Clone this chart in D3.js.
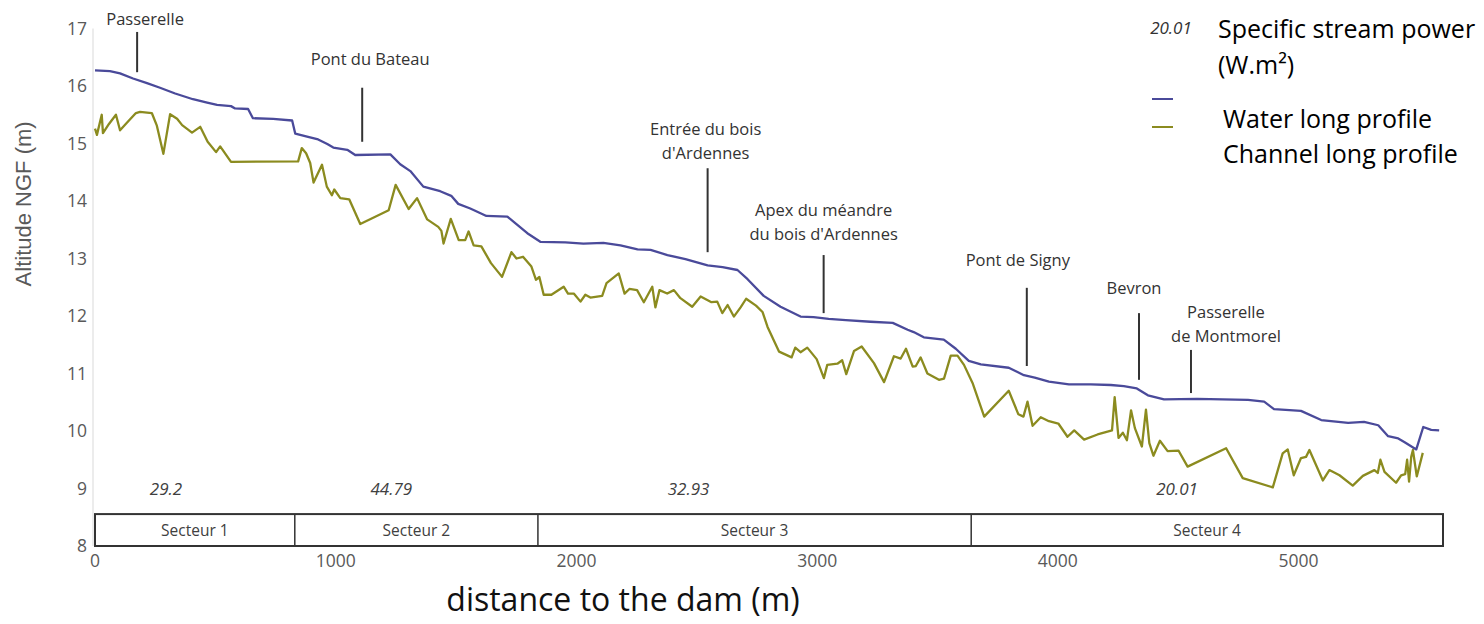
<!DOCTYPE html>
<html>
<head>
<meta charset="utf-8">
<script src="https://cdn.jsdelivr.net/npm/d3@7"></script>
<style>
  html, body { margin: 0; padding: 0; background: #fff; }
  svg { display: block; font-family: "Open Sans", Lato, sans-serif; }
</style>
</head>
<body>
<svg id="chart" width="1484" height="624"></svg>
<script>
// Long profile of the river downstream of the dam: distance (m) vs altitude NGF (m)
const waterDist = [0,62,104,158,216,270,333,407,466,507,565,582,636,656,740,819,832,881,927,965,990,1048,1081,1227,1268,1310,1364,1434,1480,1509,1559,1626,1713,1742,1796,1850,1954,2029,2112,2183,2254,2308,2378,2453,2545,2607,2669,2711,2778,2848,2931,2985,3048,3119,3222,3314,3376,3401,3443,3526,3576,3630,3680,3796,3859,3904,3963,4046,4137,4220,4274,4328,4374,4441,4578,4790,4857,4898,5010,5094,5206,5272,5331,5372,5414,5439,5489,5518,5551,5584];
const waterAlt = [16.27,16.26,16.22,16.13,16.05,15.97,15.87,15.77,15.71,15.67,15.65,15.61,15.60,15.44,15.43,15.40,15.17,15.12,15.07,14.99,14.93,14.89,14.80,14.81,14.64,14.52,14.25,14.17,14.09,13.95,13.87,13.74,13.73,13.63,13.44,13.29,13.28,13.26,13.27,13.23,13.16,13.15,13.06,12.99,12.88,12.85,12.80,12.64,12.35,12.16,11.99,11.98,11.95,11.93,11.90,11.88,11.76,11.72,11.63,11.59,11.43,11.22,11.16,11.10,10.97,10.93,10.86,10.81,10.81,10.80,10.78,10.74,10.62,10.55,10.56,10.54,10.51,10.38,10.35,10.19,10.14,10.16,10.10,9.91,9.87,9.81,9.68,10.07,10.02,10.01];

const channelDist = [0,8,28,33,58,87,104,141,170,187,236,257,284,312,341,362,403,437,468,503,520,565,844,859,877,894,908,943,963,984,994,1019,1056,1102,1220,1249,1303,1338,1380,1426,1439,1448,1478,1511,1538,1552,1573,1605,1645,1691,1730,1751,1778,1813,1832,1846,1864,1896,1947,1965,1989,2017,2037,2058,2107,2125,2176,2200,2220,2252,2280,2315,2328,2345,2377,2405,2432,2481,2516,2561,2585,2606,2628,2654,2682,2705,2746,2773,2794,2842,2894,2909,2931,2959,2998,3028,3042,3084,3104,3121,3153,3185,3236,3278,3319,3347,3369,3397,3410,3430,3458,3506,3527,3555,3583,3610,3647,3694,3796,3836,3857,3874,3895,3929,3963,4002,4040,4068,4109,4165,4225,4236,4252,4270,4287,4304,4320,4349,4366,4380,4397,4424,4456,4501,4539,4699,4768,4893,4934,4955,4980,5010,5031,5045,5101,5128,5170,5225,5267,5315,5329,5340,5357,5405,5426,5443,5451,5459,5468,5475,5491,5516];
const channelAlt = [15.26,15.15,15.50,15.18,15.34,15.50,15.23,15.40,15.53,15.55,15.53,15.31,14.82,15.51,15.43,15.32,15.19,15.29,15.03,14.85,14.95,14.68,14.69,14.92,14.83,14.66,14.32,14.63,14.25,14.10,14.20,14.05,14.03,13.60,13.84,14.28,13.86,14.05,13.68,13.55,13.48,13.26,13.69,13.32,13.32,13.47,13.23,13.21,12.92,12.68,13.11,13.00,13.03,12.86,12.63,12.68,12.37,12.37,12.51,12.39,12.39,12.25,12.37,12.32,12.35,12.57,12.74,12.39,12.47,12.45,12.24,12.51,12.15,12.45,12.39,12.45,12.31,12.16,12.34,12.24,12.25,12.05,12.19,11.99,12.15,12.30,12.18,12.07,11.81,11.38,11.28,11.45,11.37,11.45,11.25,10.92,11.15,11.17,11.23,10.99,11.39,11.47,11.18,10.85,11.30,11.26,11.43,11.12,11.13,11.28,11.00,10.89,10.91,11.31,11.31,11.15,10.82,10.25,10.70,10.29,10.25,10.51,10.09,10.24,10.17,10.13,9.90,10.01,9.85,9.94,10.01,10.59,9.88,9.97,9.84,10.36,10.05,9.73,10.37,9.79,9.57,9.83,9.65,9.66,9.38,9.70,9.18,9.02,9.61,9.68,9.23,9.53,9.55,9.67,9.14,9.32,9.23,9.05,9.22,9.32,9.27,9.50,9.29,9.10,9.23,9.25,9.50,9.12,9.55,9.67,9.21,9.62];

const xTicks = [0, 1000, 2000, 3000, 4000, 5000];
const yTicks = [8, 9, 10, 11, 12, 13, 14, 15, 16, 17];

// Sectors along the reach and their specific stream power (W.m²)
const sectorNames = ["Secteur 1", "Secteur 2", "Secteur 3", "Secteur 4"];
const sectorBounds = [0, 830, 1840, 3640, 5600];
const streamPower = ["29.2", "44.79", "32.93", "20.01"];
const streamPowerDist = [295, 1231, 2466, 4495];

// Landmarks along the river
const landmarkNames = [
  ["Passerelle"],
  ["Pont du Bateau"],
  ["Entrée du bois", "d'Ardennes"],
  ["Apex du méandre", "du bois d'Ardennes"],
  ["Pont de Signy"],
  ["Bevron"],
  ["Passerelle", "de Montmorel"]
];
const landmarkDist = [175, 1110, 2545, 3027, 3871, 4337, 4553];

// Leader line extent (altitude) and label placement for each landmark
const landmarkLayout = [
  { top: 16.94, bottom: 16.24, gap: 7, dx: 8 },
  { top: 15.97, bottom: 15.03, gap: 23, dx: 8 },
  { top: 14.57, bottom: 13.11, gap: 9, dx: -2 },
  { top: 13.06, bottom: 12.05, gap: 15, dx: 0 },
  { top: 12.49, bottom: 11.13, gap: 22, dx: -9 },
  { top: 12.05, bottom: 10.89, gap: 19, dx: -5 },
  { top: 11.41, bottom: 10.66, gap: 8, dx: 35 }
];

const svg = d3.select("#chart");

const x = d3.scaleLinear().domain([0, 5600]).range([95, 1443]);
const y = d3.scaleLinear().domain([8, 17]).range([546, 28.5]);

// Y axis: faint line with tick labels
svg.append("line")
  .attr("x1", x(0) - 2).attr("x2", x(0) - 2)
  .attr("y1", y(17)).attr("y2", y(8))
  .attr("stroke", "#d9d9d9").attr("stroke-width", 1);

svg.append("g").selectAll("text").data(yTicks).join("text")
  .attr("x", 87).attr("y", d => y(d) + 6)
  .attr("text-anchor", "end")
  .attr("font-size", 17.5).attr("fill", "#595959")
  .text(d => d);

svg.append("text")
  .attr("transform", `translate(31, ${y(13.95)}) rotate(-90)`)
  .attr("text-anchor", "middle")
  .attr("font-family", "'Liberation Sans', Arial, sans-serif")
  .attr("font-size", 22).attr("fill", "#595959")
  .text("Altitude NGF (m)");

// Sector band along the bottom axis
const bandTop = y(8.555), bandBottom = y(8);
svg.append("rect")
  .attr("x", x(0)).attr("y", bandTop)
  .attr("width", x(5600) - x(0)).attr("height", bandBottom - bandTop)
  .attr("fill", "none").attr("stroke", "#333").attr("stroke-width", 2);

svg.append("g").selectAll("line").data(sectorBounds.slice(1, -1)).join("line")
  .attr("x1", d => x(d)).attr("x2", d => x(d))
  .attr("y1", bandTop).attr("y2", bandBottom)
  .attr("stroke", "#333").attr("stroke-width", 1.5);

svg.append("g").selectAll("text").data(sectorNames).join("text")
  .attr("x", (d, i) => (x(sectorBounds[i]) + x(sectorBounds[i + 1])) / 2)
  .attr("y", (bandTop + bandBottom) / 2 + 6)
  .attr("text-anchor", "middle")
  .attr("font-size", 15.5).attr("fill", "#404040")
  .text(d => d);

svg.append("g").selectAll("text").data(streamPower).join("text")
  .attr("x", (d, i) => x(streamPowerDist[i]))
  .attr("y", y(9) + 6)
  .attr("text-anchor", "middle")
  .attr("font-size", 17).attr("font-style", "italic").attr("fill", "#404040")
  .text(d => d);

// X tick labels
svg.append("g").selectAll("text").data(xTicks).join("text")
  .attr("x", d => x(d)).attr("y", bandBottom + 21)
  .attr("text-anchor", "middle")
  .attr("font-size", 17.5).attr("fill", "#595959")
  .text(d => d);

svg.append("text")
  .attr("x", 623).attr("y", 611)
  .attr("text-anchor", "middle")
  .attr("font-size", 32).attr("fill", "#111")
  .text("distance to the dam (m)");

// Profiles
const line = d3.line().x(d => x(d[0])).y(d => y(d[1]));
const channel = channelDist.map((d, i) => [d, channelAlt[i]]);
const water = waterDist.map((d, i) => [d, waterAlt[i]]);

svg.append("path").datum(channel)
  .attr("d", line).attr("fill", "none")
  .attr("stroke", "#8b8b1f").attr("stroke-width", 2.3).attr("stroke-linejoin", "round");

svg.append("path").datum(water)
  .attr("d", line).attr("fill", "none")
  .attr("stroke", "#4a4a9a").attr("stroke-width", 2.3).attr("stroke-linejoin", "round");

// Landmark leaders and labels
const lm = svg.append("g");
landmarkNames.forEach((lines, i) => {
  const L = landmarkLayout[i];
  const cx = x(landmarkDist[i]);
  lm.append("line")
    .attr("x1", cx).attr("x2", cx)
    .attr("y1", y(L.top)).attr("y2", y(L.bottom))
    .attr("stroke", "#333").attr("stroke-width", 2);
  const base = y(L.top) - L.gap;
  lines.forEach((t, j) => {
    lm.append("text")
      .attr("x", cx + L.dx)
      .attr("y", base - (lines.length - 1 - j) * 24)
      .attr("text-anchor", "middle")
      .attr("font-size", 16.5).attr("fill", "#333")
      .text(t);
  });
});

// Legend
const legend = svg.append("g");
legend.append("text")
  .attr("x", 1171).attr("y", 34)
  .attr("text-anchor", "middle")
  .attr("font-size", 17).attr("font-style", "italic").attr("fill", "#333")
  .text("20.01");
legend.append("text").attr("x", 1218).attr("y", 38)
  .attr("font-size", 25).attr("fill", "#000").text("Specific stream power");
legend.append("text").attr("x", 1218).attr("y", 74)
  .attr("font-size", 25).attr("fill", "#000").text("(W.m²)");
legend.append("line")
  .attr("x1", 1152).attr("x2", 1173).attr("y1", 99).attr("y2", 99)
  .attr("stroke", "#4a4a9a").attr("stroke-width", 2);
legend.append("line")
  .attr("x1", 1152).attr("x2", 1173).attr("y1", 127).attr("y2", 127)
  .attr("stroke", "#8b8b1f").attr("stroke-width", 2);
legend.append("text").attr("x", 1223).attr("y", 128)
  .attr("font-size", 25).attr("fill", "#000").text("Water long profile");
legend.append("text").attr("x", 1223).attr("y", 163)
  .attr("font-size", 25).attr("fill", "#000").text("Channel long profile");
</script>
</body>
</html>
